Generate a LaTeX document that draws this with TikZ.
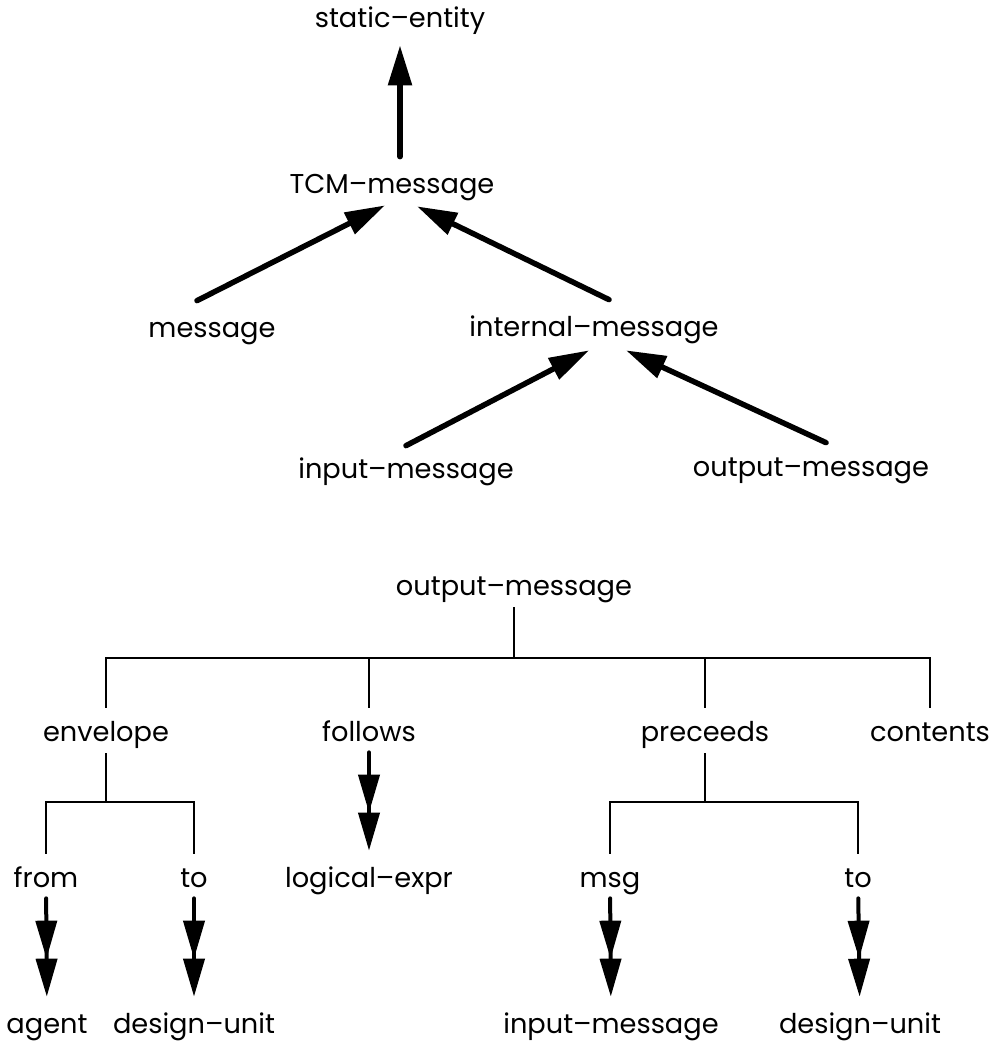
\documentclass[tikz,border=0pt]{standalone}
\usepackage{fontspec}
\setmainfont{Poppins}
\usetikzlibrary{arrows.meta,positioning,calc}

\begin{document}
\begin{tikzpicture}[
        x=0.02cm, y=-0.02cm,
        term/.style={inner sep=0pt, anchor=base, text height=0.48cm, text depth=0.12cm,
                     font=\fontsize{15.5}{18}\selectfont},
        isa/.style={-{Triangle[length=0.8cm,width=0.46cm]}, line width=0.11cm, line cap=round},
        slot/.style={line width=0.04cm, shorten <=0.12cm, shorten >=0.18cm},
        filler/.style={-{Triangle[length=0.76cm,width=0.42cm]Triangle[length=0.76cm,width=0.42cm]},
                       line width=0.08cm, line cap=round, shorten <=0.1cm, shorten >=0.24cm}
    ]
        \useasboundingbox (0,0) rectangle (1003,1041);

        % class hierarchy
        \node[term] (static)   at (400,28)  {static–entity};
        \node[term] (tcm)      at (392,193) {TCM–message};
        \node[term] (message)  at (212,337) {message};
        \node[term] (internal) at (594,336) {internal–message};
        \node[term] (input)    at (406,478) {input–message};
        \node[term] (output)   at (811,476) {output–message};

        \draw[isa] ($(tcm.north)+(8,-12)$) -- ($(static.south)+(0,11)$);
        \draw[isa] ($(message.north)+(-15,-12)$) -- ($(tcm.south)+(-7,6)$);
        \draw[isa] ($(internal.north)+(15,-12)$) -- ($(tcm.south)+(25,7)$);
        \draw[isa] ($(input.north)+(0,-8)$) -- ($(internal.south)+(-5,8)$);
        \draw[isa] ($(output.north)+(15,-9)$) -- ($(internal.south)+(32,8)$);

        % slots of output-message
        \node[term] (root)     at (514,595)  {output–message};
        \node[term] (envelope) at (106,741)  {envelope};
        \node[term] (follows)  at (369,741)  {follows};
        \node[term] (preceeds) at (705,741)  {preceeds};
        \node[term] (contents) at (930,741)  {contents};
        \node[term] (from)     at (46,887)   {from};
        \node[term] (envto)    at (194,887)  {to};
        \node[term] (logic)    at (369,887)  {logical–expr};
        \node[term] (msg)      at (610,887)  {msg};
        \node[term] (preto)    at (858,887)  {to};
        \node[term] (agent)    at (47,1033)  {agent};
        \node[term] (envunit)  at (194,1033) {design–unit};
        \node[term] (msgtype)  at (611,1033) {input–message};
        \node[term] (preunit)  at (860,1033) {design–unit};

        \coordinate (topbar) at (0,658);
        \coordinate (midbar) at (0,802);

        \foreach \c in {envelope,follows,preceeds,contents}
            \draw[slot] (root.south) -- (root.south |- topbar) -| (\c.north);
        \foreach \c in {from,envto}
            \draw[slot] (envelope.south) -- (envelope.south |- midbar) -| (\c.north);
        \foreach \c in {msg,preto}
            \draw[slot] (preceeds.south) -- (preceeds.south |- midbar) -| (\c.north);

        \draw[filler] (from) -- (agent);
        \draw[filler] (envto) -- (envunit);
        \draw[filler] (follows) -- (logic);
        \draw[filler] (msg) -- (msgtype);
        \draw[filler] (preto) -- (preunit);
    \end{tikzpicture}
\end{document}
